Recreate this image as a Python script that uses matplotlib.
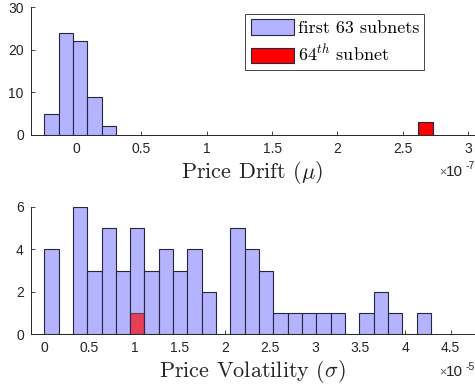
import numpy as np
import matplotlib
matplotlib.use("Agg")
import matplotlib.pyplot as plt
from matplotlib.patches import Patch

# ---- data (bin units: x1e-7 for drift, x1e-5 for volatility) ----
drift_bin_start = -0.242
drift_bin_width = 0.110
drift_counts = [5, 24, 22, 9, 2]
drift_red_start = 2.618
drift_red_counts = [3]

vol_bin_start = 0.0
vol_bin_width = 0.1586
vol_counts = [4, 0, 6, 3, 5, 3, 5, 3, 4, 3, 4, 2, 0, 5, 4, 3, 1, 1, 1, 1, 1, 0, 1, 2, 1, 0, 1]
vol_red_start = 0.9516
vol_red_counts = [1]

drift_xticks = [0, 0.5, 1, 1.5, 2, 2.5, 3]
drift_xticklabels = ["0", "0.5", "1", "1.5", "2", "2.5", "3"]
drift_yticks = [0, 10, 20, 30]
vol_xticks = [0, 0.5, 1, 1.5, 2, 2.5, 3, 3.5, 4, 4.5]
vol_xticklabels = ["0", "0.5", "1", "1.5", "2", "2.5", "3", "3.5", "4", "4.5"]
vol_yticks = [0, 2, 4, 6]

legend_labels = ["first 63 subnets", "64$^{th}$ subnet"]
xlabel_top = r"Price Drift ($\mu$)"
xlabel_bot = r"Price Volatility ($\sigma$)"

plt.rcParams['mathtext.fontset'] = 'cm'

BLUE = (0.7, 0.7, 1.0)
EDGE = (0.15, 0.15, 0.25)
AX = (0.15, 0.15, 0.15)

W, H = 475, 389
fig = plt.figure(figsize=(W / 100, H / 100), dpi=100)

def px_axes(left, right, top, bottom):
    return fig.add_axes([left / W, 1 - bottom / H, (right - left) / W, (bottom - top) / H])

ax1 = px_axes(30.7, 473.5, 7.3, 135.0)
ax2 = px_axes(30.7, 474.0, 206.7, 334.3)

def draw(ax, start, width, counts, color, alpha=1.0, z=2):
    n = len(counts)
    lefts = start + width * np.arange(n)
    ax.bar(lefts, counts, width=width, align='edge', color=color, alpha=alpha,
           edgecolor=EDGE, linewidth=0.8, zorder=z)

draw(ax1, drift_bin_start, drift_bin_width, drift_counts, BLUE)
draw(ax1, drift_red_start, drift_bin_width, drift_red_counts, (1, 0, 0))
draw(ax2, vol_bin_start, vol_bin_width, vol_counts, BLUE)
ax2.bar([vol_red_start], vol_red_counts, width=vol_bin_width, align='edge',
        color=(1, 0, 0), alpha=0.65, edgecolor=EDGE, linewidth=0.8, zorder=3)

ax1.set_xlim(-0.346, 3.04)
ax1.set_ylim(0, 30)
ax2.set_xlim(-0.15, 4.76)
ax2.set_ylim(0, 6)

for ax, xt, xtl, yt in [(ax1, drift_xticks, drift_xticklabels, drift_yticks),
                        (ax2, vol_xticks, vol_xticklabels, vol_yticks)]:
    ax.set_xticks(xt)
    ax.set_xticklabels(xtl, family='Liberation Sans', fontsize=10, color=AX)
    ax.set_yticks(yt)
    ax.set_yticklabels([str(v) for v in yt], family='Liberation Sans', fontsize=10, color=AX)
    ax.tick_params(direction='in', length=3, width=0.6, color=AX)
    ax.tick_params(axis='x', pad=5)
    ax.tick_params(axis='y', pad=5)
    for s in ['top', 'right']:
        ax.spines[s].set_visible(False)
    for s in ['left', 'bottom']:
        ax.spines[s].set_color(AX)
        ax.spines[s].set_linewidth(0.7)
        ax.spines[s].set_zorder(5)

ax1.set_xlabel(xlabel_top, family='cmr10', fontsize=16, color=AX, labelpad=2)
ax2.set_xlabel(xlabel_bot, family='cmr10', fontsize=16, color=AX, labelpad=2)

# exponent labels
for ypix, exp in [(171.5, "-7"), (371.5, "-5")]:
    fig.text(446 / W, 1 - (ypix + 0.5) / H, "\u00d7", family='Liberation Sans', fontsize=9,
             color=(0.4, 0.4, 0.4), ha='right', va='center')
    fig.text(446 / W, 1 - ypix / H, "10", family='Liberation Sans', fontsize=11,
             color=AX, ha='left', va='center')
    fig.text(465.5 / W, 1 - (ypix - 5) / H, exp, family='Liberation Sans', fontsize=7.5,
             color=AX, ha='left', va='center')

handles = [Patch(facecolor=BLUE, edgecolor=EDGE, linewidth=0.8),
           Patch(facecolor=(1, 0, 0), edgecolor=EDGE, linewidth=0.8)]
leg = ax1.legend(handles, legend_labels, loc='upper right',
                 bbox_to_anchor=(424.3 / W, 1 - 14 / H), bbox_transform=fig.transFigure,
                 borderaxespad=0, prop={'family': 'cmr10', 'size': 13},
                 handlelength=2.39, handleheight=0.94, handletextpad=0.2,
                 labelspacing=0.4, borderpad=0.3, fancybox=False, framealpha=1)
leg.get_frame().set_edgecolor(AX)
leg.get_frame().set_linewidth(0.6)

fig.savefig("out.png", dpi=100)
